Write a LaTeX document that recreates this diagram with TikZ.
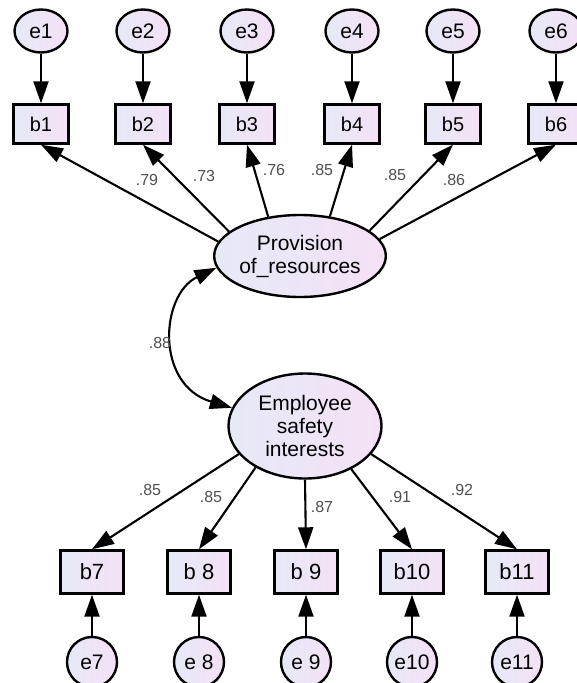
\documentclass[tikz,border=0pt]{standalone}
\usepackage{fontspec}
\setmainfont{Liberation Sans}
\usetikzlibrary{shapes.geometric,arrows.meta}
\definecolor{fillL}{RGB}{230,233,247}
\definecolor{fillR}{RGB}{245,225,246}
\definecolor{lblgray}{RGB}{80,80,80}
\tikzset{
  shadefill/.style={left color=fillL,right color=fillR,draw=black,line width=2.4pt},
  errtop/.style={ellipse,shadefill,minimum width=53pt,minimum height=43pt,inner sep=0pt,font=\fontsize{21}{23}\selectfont},
  errbot/.style={circle,shadefill,minimum size=50pt,inner sep=0pt,font=\fontsize{21}{23}\selectfont},
  boxtop/.style={rectangle,shadefill,minimum width=55pt,minimum height=39pt,inner sep=0pt,font=\fontsize{20}{22}\selectfont},
  boxbot/.style={rectangle,shadefill,minimum width=63pt,minimum height=43pt,inner sep=0pt,font=\fontsize{22}{24}\selectfont},
  latent/.style={ellipse,shadefill,inner sep=0pt,align=center,font=\fontsize{21}{23}\selectfont},
  arr/.style={-{Triangle[length=22pt,width=15pt]},line width=2.1pt},
  darr/.style={{Triangle[length=22pt,width=15pt]}-{Triangle[length=22pt,width=15pt]},line width=2.1pt},
  lbl/.style={text=lblgray,inner sep=0pt,font=\fontsize{16}{18}\selectfont}
}
\begin{document}
\begin{tikzpicture}[x=1pt,y=-1pt]
\useasboundingbox (0,0) rectangle (577,683);
\clip (0,0) rectangle (577,683);
% top error terms
\node[errtop] (e1) at (41,31) {e1};
\node[errtop] (e2) at (143,31) {e2};
\node[errtop] (e3) at (247,31) {e3};
\node[errtop] (e4) at (352,31) {e4};
\node[errtop] (e5) at (453,31) {e5};
\node[errtop] (e6) at (556,31) {e6};
% top indicators
\node[boxtop] (b1) at (41,124) {b1};
\node[boxtop] (b2) at (143,124) {b2};
\node[boxtop] (b3) at (247,124) {b3};
\node[boxtop] (b4) at (352,124) {b4};
\node[boxtop] (b5) at (453,124) {b5};
\node[boxtop] (b6) at (556,124) {b6};
% latent variables
\node[latent,minimum width=165pt,minimum height=82pt] (prov) at (300,256) {Provision\\of\_resources};
\node[latent,minimum width=153pt,minimum height=105pt] (emp) at (305,426) {Employee\\safety\\interests};
% bottom indicators
\node[boxbot] (b7) at (92,572) {b7};
\node[boxbot] (b8) at (199,572) {b 8};
\node[boxbot] (b9) at (306,572) {b 9};
\node[boxbot] (b10) at (412,572) {b10};
\node[boxbot] (b11) at (517,572) {b11};
% bottom error terms
\node[errbot] (e7) at (92,662) {e7};
\node[errbot] (e8) at (199,662) {e 8};
\node[errbot] (e9) at (306,662) {e 9};
\node[errbot] (e10) at (412,662) {e10};
\node[errbot] (e11) at (517,662) {e11};
% error arrows top
\foreach \i in {1,...,6} {\draw[arr] (e\i) -- (b\i);}
% error arrows bottom
\foreach \i in {7,...,11} {\draw[arr] (e\i) -- (b\i);}
% loadings top
\draw[arr] (prov.170) -- (b1.south);
\draw[arr] (prov.161) -- (b2.south);
\draw[arr] (prov.129) -- (b3.south);
\draw[arr] (prov.53) -- (b4.south);
\draw[arr] (prov.20) -- (b5.south);
\draw[arr] (prov.12) -- (b6.south);
% loadings bottom
\draw[arr] (emp.203) -- (b7.north);
\draw[arr] (emp.220) -- (b8.north);
\draw[arr] (emp.270) -- (b9.north);
\draw[arr] (emp.317) -- (b10.north);
\draw[arr] (emp.337) -- (b11.north);
% covariance
\draw[darr] (prov.188) .. controls (160,295) and (155,385) .. (emp.166);
% labels
\node[lbl] (l1) at (147,180) {.79};
\node[lbl] (l2) at (204,176) {.73};
\node[lbl] (l3) at (274,170) {.76};
\node[lbl] (l4) at (322,170) {.85};
\node[lbl] (l5) at (395,175) {.85};
\node[lbl] (l6) at (454,180) {.86};
\node[lbl] (l7) at (160,343) {.88};
\node[lbl] (l8) at (150,490) {.85};
\node[lbl] (l9) at (211,497) {.85};
\node[lbl] (l10) at (322,507) {.87};
\node[lbl] (l11) at (400,497) {.91};
\node[lbl] (l12) at (462,490) {.92};
\end{tikzpicture}
\end{document}
